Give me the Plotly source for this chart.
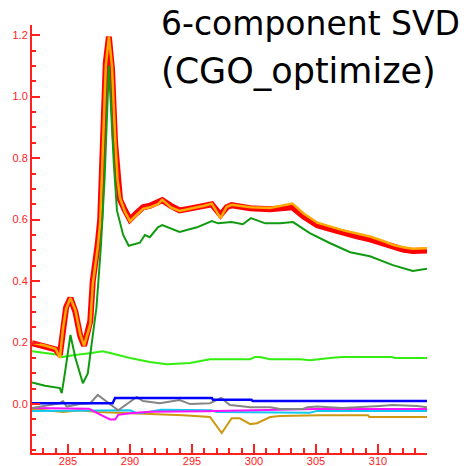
import plotly.graph_objects as go

# ---- data ----
red_x = [282.1, 283.2, 284.0, 284.35, 284.6, 284.85, 285.2, 285.6, 286.0, 286.3, 286.8, 287.0, 287.4, 287.6, 287.75, 287.9, 288.05, 288.3, 288.55, 288.8, 289.0, 289.2, 289.6, 290.0, 290.5, 291.05, 291.6, 292.25, 292.6, 293.3, 294.0, 294.7, 295.4, 296.0, 296.6, 297.3, 297.8, 298.2, 299.0, 299.7, 301.3, 302.2, 303.1, 304.0, 305.1, 306.1, 307.2, 308.3, 309.35, 310.3, 311.2, 312.0, 312.8, 313.95]
red_y = [0.198, 0.185, 0.178, 0.16, 0.25, 0.315, 0.345, 0.30, 0.22, 0.19, 0.27, 0.40, 0.52, 0.60, 0.77, 0.93, 1.11, 1.195, 1.09, 0.85, 0.72, 0.665, 0.63, 0.60, 0.62, 0.64, 0.645, 0.655, 0.663, 0.645, 0.63, 0.635, 0.64, 0.645, 0.65, 0.615, 0.64, 0.647, 0.64, 0.637, 0.634, 0.638, 0.64, 0.61, 0.582, 0.57, 0.556, 0.546, 0.536, 0.523, 0.51, 0.503, 0.498, 0.50]
orange_y = [0.20, 0.19, 0.18, 0.15, 0.245, 0.31, 0.345, 0.305, 0.225, 0.19, 0.26, 0.39, 0.51, 0.59, 0.76, 0.92, 1.10, 1.195, 1.10, 0.87, 0.73, 0.67, 0.625, 0.595, 0.615, 0.635, 0.64, 0.65, 0.665, 0.64, 0.628, 0.635, 0.64, 0.645, 0.652, 0.605, 0.642, 0.648, 0.643, 0.64, 0.638, 0.645, 0.652, 0.62, 0.59, 0.578, 0.565, 0.555, 0.545, 0.532, 0.518, 0.51, 0.505, 0.507]

green_x = [282.1, 283.15, 284.35, 284.5, 284.75, 285.2, 285.6, 286.2, 286.6, 287.3, 287.65, 287.95, 288.3, 288.7, 288.95, 289.45, 289.9, 290.8, 291.2, 291.6, 292.25, 292.6, 294.0, 295.4, 296.6, 297.1, 298.2, 299.1, 299.75, 300.9, 302.1, 303.15, 304.5, 306.1, 307.75, 309.35, 311.2, 312.8, 313.95]
green_y = [0.07, 0.06, 0.052, 0.036, 0.10, 0.225, 0.15, 0.068, 0.10, 0.315, 0.51, 0.73, 1.10, 0.78, 0.63, 0.55, 0.515, 0.525, 0.55, 0.543, 0.575, 0.582, 0.56, 0.575, 0.595, 0.588, 0.592, 0.585, 0.605, 0.588, 0.588, 0.592, 0.556, 0.524, 0.494, 0.481, 0.452, 0.433, 0.44]

lime_x = [282.1, 284.35, 284.5, 285.55, 286.9, 287.8, 288.4, 290.0, 291.6, 292.98, 294.84, 296.45, 299.68, 300.08, 300.48, 301.29, 303.71, 304.52, 306.13, 307.1, 311.13, 311.37, 313.95]
lime_y = [0.172, 0.16, 0.153, 0.16, 0.166, 0.172, 0.166, 0.15, 0.137, 0.13, 0.134, 0.146, 0.146, 0.153, 0.153, 0.146, 0.146, 0.143, 0.15, 0.153, 0.153, 0.15, 0.15]

blue_x = [282.1, 288.6, 288.8, 296.6, 296.7, 299.8, 299.9, 313.95]
blue_y = [0.003, 0.003, 0.02, 0.02, 0.014, 0.014, 0.01, 0.01]

gray_x = [282.1, 284.35, 284.6, 284.9, 285.95, 286.8, 287.4, 288.15, 289.05, 290.55, 291.05, 292.4, 294.0, 294.85, 296.45, 297.35, 298.05, 298.85, 299.7, 301.3, 302.1, 303.95, 304.3, 305.1, 307.1, 310.15, 311.15, 313.15, 313.95]
gray_y = [-0.013, 0.003, 0.01, -0.008, 0.0, 0.003, 0.03, 0.006, -0.02, 0.023, 0.01, 0.003, 0.013, 0.0, 0.003, 0.02, -0.003, -0.006, -0.01, -0.01, -0.016, -0.016, -0.01, -0.008, -0.013, -0.006, -0.003, -0.006, -0.01]

mag_x = [282.1, 286.7, 287.4, 288.4, 288.8, 289.05, 290.0, 291.6, 296.0, 300.0, 305.0, 313.95]
mag_y = [-0.013, -0.015, -0.03, -0.05, -0.05, -0.035, -0.03, -0.025, -0.023, -0.02, -0.016, -0.016]

cyan_x = [282.1, 290.0, 290.6, 291.6, 292.5, 296.6, 297.0, 304.5, 305.1, 313.95]
cyan_y = [-0.022, -0.02, -0.03, -0.025, -0.018, -0.02, -0.026, -0.028, -0.022, -0.022]

gold_x = [282.1, 284.6, 285.95, 287.35, 290.0, 293.6, 294.3, 296.45, 297.4, 298.2, 298.85, 299.7, 300.25, 301.3, 302.1, 305.3, 309.2, 309.3, 313.95]
gold_y = [-0.016, -0.026, -0.02, -0.026, -0.03, -0.036, -0.036, -0.042, -0.094, -0.046, -0.046, -0.065, -0.062, -0.042, -0.039, -0.036, -0.036, -0.042, -0.042]

x_ticks = [285, 290, 295, 300, 305, 310]
y_ticks = [0.0, 0.2, 0.4, 0.6, 0.8, 1.0, 1.2]

title_line1 = "6-component SVD"
title_line2 = "(CGO_optimize)"

# ---- figure ----
fig = go.Figure()

def add(x, y, color, width):
    fig.add_trace(go.Scatter(x=x, y=y, mode="lines",
                             line=dict(color=color, width=width),
                             showlegend=False, hoverinfo="skip"))

add(gold_x, gold_y, "#cc9910", 2)
add(cyan_x, cyan_y, "#10c8f0", 2)
add(mag_x, mag_y, "#ff10ff", 2)
add(gray_x, gray_y, "#858585", 2)
add(blue_x, blue_y, "#0000ff", 2.5)
add(lime_x, lime_y, "#33ee10", 2)
add(red_x, red_y, "#ff0000", 6)
add(red_x, orange_y, "#ffaa00", 2.5)
add(green_x, green_y, "#109a10", 2)

axis_red = "#ff2020"
fig.update_layout(
    width=472, height=466,
    margin=dict(l=32, r=45, t=25, b=13, autoexpand=False),
    paper_bgcolor="white", plot_bgcolor="white",
    xaxis=dict(range=[282.1, 313.95], showgrid=False, zeroline=False,
               automargin=False,
               showline=True, linecolor=axis_red, linewidth=2,
               ticks="inside", ticklen=9, tickwidth=1.5, tickcolor=axis_red,
               ticklabelstandoff=-3,
               tickvals=x_ticks, ticktext=[str(v) for v in x_ticks],
               tickfont=dict(family="Liberation Sans", size=11, color=axis_red),
               minor=dict(dtick=1, tick0=285, ticks="inside", ticklen=5,
                          tickwidth=1.5, tickcolor=axis_red)),
    yaxis=dict(range=[-0.159, 1.233], showgrid=False, zeroline=False,
               automargin=False,
               showline=True, linecolor=axis_red, linewidth=2,
               ticks="inside", ticklen=8, tickwidth=1.5, tickcolor=axis_red,
               tickvals=y_ticks, ticktext=["%.1f" % v for v in y_ticks],
               tickfont=dict(family="Liberation Sans", size=11, color=axis_red),
               minor=dict(dtick=0.05, tick0=0, ticks="inside", ticklen=4,
                          tickwidth=1.5, tickcolor=axis_red)),
)

fig.add_annotation(text=title_line1, xref="paper", yref="paper",
                   x=0.3215, y=1.004, xanchor="left", yanchor="middle",
                   showarrow=False,
                   font=dict(family="DejaVu Sans", size=33, color="black"))
fig.add_annotation(text=title_line2, xref="paper", yref="paper",
                   x=0.3215, y=0.8925, xanchor="left", yanchor="middle",
                   showarrow=False,
                   font=dict(family="DejaVu Sans", size=35, color="black"))

fig.write_html("out.html",
               config={"displayModeBar": False},
               post_script="document.body.style.margin='0';document.body.style.padding='0';")
